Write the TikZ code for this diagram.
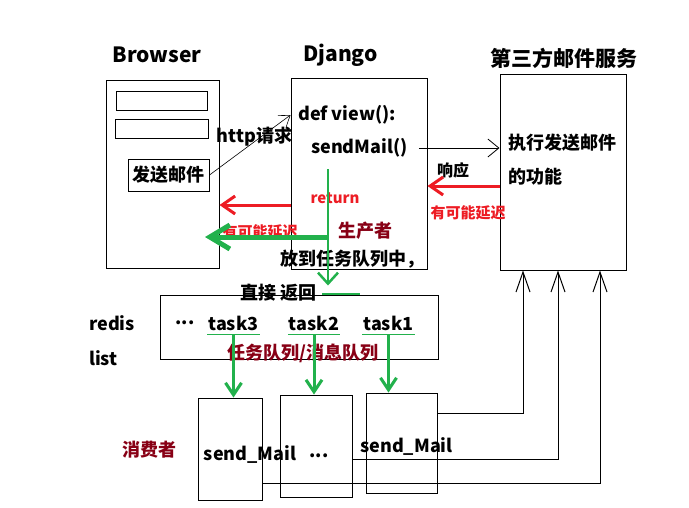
\documentclass[tikz,border=0pt]{standalone}
\usepackage{fontspec}
\setmainfont{Noto Sans CJK SC}
\usetikzlibrary{arrows.meta}
\definecolor{paintred}{RGB}{237,28,36}
\definecolor{paintgreen}{RGB}{34,177,76}
\definecolor{paintmaroon}{RGB}{136,0,21}
\begin{document}
\begin{tikzpicture}[x=1pt, y=-1pt,
		box/.style={draw, line width=1pt, inner sep=0pt},
		txt/.style={font=\bfseries\fontsize{18}{18}\selectfont, inner sep=1pt},
		title/.style={font=\bfseries\fontsize{21}{21}\selectfont},
		note/.style={font=\bfseries\fontsize{15}{15}\selectfont, text=paintred, inner sep=1pt},
		role/.style={font=\bfseries\fontsize{18}{18}\selectfont, text=paintmaroon, inner sep=1pt},
		task/.style={txt, inner ysep=4pt}]
		\useasboundingbox	(0, 0) rectangle (689, 507);

		\node [title]	(browsertitle)	at (157, 55) {Browser};
		\node [title]	(djangotitle)	at (340.5, 55) {Django};
		\node [title]	(mailtitle)	at (564, 58) {第三方邮件服务};

		\node [box, minimum width=113pt, minimum height=188pt]	(browser)	at (162.5, 174) {};
		\node [box, minimum width=91pt, minimum height=19pt]	(fieldA)	at (161.5, 100.5) {};
		\node [box, minimum width=93pt, minimum height=19pt]	(fieldB)	at (162, 128.5) {};
		\node [box, txt, minimum width=81pt, minimum height=32pt]	(button)	at (168.5, 175) {发送邮件};
		\node [box, minimum width=136pt, minimum height=191pt]	(django)	at (359, 173.5) {};
		\node [box, minimum width=126pt, minimum height=196pt]	(mail)	at (563, 172) {};

		\node [txt, anchor=west]	(defview)	at (297, 115) {def view():};
		\node [txt, anchor=west]	(sendmail)	at (310, 148) {sendMail()};
		\node [txt]	(http)	at (254.5, 137) {http请求};
		\node [txt, anchor=west]	(exec)	at (507, 143) {执行发送邮件};
		\node [txt, anchor=west]	(func)	at (507, 177) {的功能};
		\node [txt, font=\bfseries\fontsize{16}{16}\selectfont]	(resp)	at (453, 170) {响应};
		\node [note]	(delayA)	at (468, 213) {有可能延迟};
		\node [note]	(ret)	at (335, 198) {return};
		\node [note]	(delayB)	at (260, 232) {有可能延迟};
		\node [role]	(producer)	at (365, 231) {生产者};
		\node [txt]	(enqueue)	at (352, 259) {放到任务队列中，};
		\node [txt]	(direct)	at (278.5, 293) {直接 返回};

		\node [box, minimum width=278pt, minimum height=64pt]	(redis)	at (299, 327) {};
		\node [txt, anchor=west]	(redislbl)	at (88, 323) {redis};
		\node [txt, anchor=west]	(listlbl)	at (88, 358) {list};
		\node [txt]	(dots)	at (185, 323) {...};
		\node [task]	(task3)	at (233.5, 323) {task3};
		\node [task]	(task2)	at (314, 323) {task2};
		\node [task]	(task1)	at (388.5, 323) {task1};
		\node [role]	(queue)	at (303, 353) {任务队列/消息队列};

		\node [box, minimum width=64pt, minimum height=102pt]	(consA)	at (230, 449) {};
		\node [box, minimum width=72pt, minimum height=102pt]	(consB)	at (316, 446) {};
		\node [box, minimum width=71pt, minimum height=100pt]	(consC)	at (401.5, 443) {};
		\node [role]	(consumer)	at (149, 450) {消费者};
		\node [txt]	(workerA)	at (250, 454) {send\_Mail};
		\node [txt]	(workerB)	at (319, 456) {...};
		\node [txt]	(workerC)	at (406.5, 446) {send\_Mail};

		\coordinate	(prodtop)	at (328, 169);
		\coordinate	(prodmid)	at (328, 237);
		\coordinate	(backtip)	at (205, 237);

		\draw [-{Straight Barb[length=10pt, width=14pt]}, line width=0.6pt]	(button.east) to (defview.west -| django.west);
		\draw [-{Straight Barb[length=11pt, width=18pt]}, line width=0.8pt]	([xshift=10pt]sendmail.east) to (sendmail.east -| mail.west);

		\draw [paintred, -{Straight Barb[length=13pt, width=18pt]}, line width=3pt]	([yshift=-14pt]mail.west) to ([yshift=-14pt]mail.west -| django.east);
		\draw [paintred, -{Straight Barb[length=13pt, width=18pt]}, line width=3pt]	([yshift=-31.5pt]django.west) to ([yshift=-31.5pt]django.west -| browser.east);

		\draw [paintgreen, -{Straight Barb[length=11pt, width=20pt]}, line width=2.5pt, shorten >=9pt]	(prodtop) to (prodtop |- redis.north);
		\draw [paintgreen, -{Straight Barb[length=20pt, width=24pt]}, line width=5pt]	(prodmid) to (backtip);
		\draw [paintgreen, line width=1.5pt]	(322, 294) to (360, 294);

		\draw [paintgreen, line width=1.2pt]	(task3.south west) to (task3.south east);
		\draw [paintgreen, line width=1.2pt]	(task2.south west) to (task2.south east);
		\draw [paintgreen, line width=1.2pt]	(task1.south west) to (task1.south east);

		\draw [paintgreen, -{Straight Barb[length=12pt, width=16pt]}, line width=3pt]	(task3.south) to (task3.south |- consA.north);
		\draw [paintgreen, -{Straight Barb[length=12pt, width=16pt]}, line width=3pt]	(task2.south) to (task2.south |- consB.north);
		\draw [paintgreen, -{Straight Barb[length=12pt, width=16pt]}, line width=3pt]	(task1.south) to (task1.south |- consC.north);

		\draw [-{Straight Barb[length=20pt, width=14pt]}, line width=1pt]	([yshift=-20.5pt]consC.north east) -| ([xshift=-40pt]mail.south);
		\draw [-{Straight Barb[length=20pt, width=14pt]}, line width=1pt]	([yshift=-65pt]consB.north east) -| ([xshift=-5pt]mail.south);
		\draw [-{Straight Barb[length=20pt, width=14pt]}, line width=1pt]	([yshift=17pt]consA.south east) -| ([xshift=37pt]mail.south);
\end{tikzpicture}
\end{document}
